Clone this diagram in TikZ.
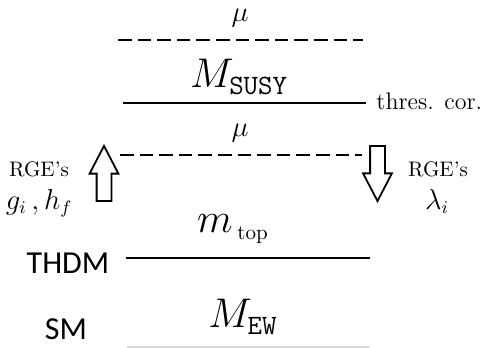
\documentclass[tikz,border=0pt]{standalone}
\usepackage{fontspec}
\usetikzlibrary{positioning,shapes.arrows}
\newfontfamily\modelfont{Carlito}
\tikzset{
  scaleline/.style={line width=1pt, draw=black},
  dashscale/.style={scaleline, dash pattern=on 6.8pt off 3pt},
  faintline/.style={line width=0.6pt, draw=black!15},
  massmark/.style={font=\fontsize{21}{24}\selectfont, inner sep=0pt},
  mumark/.style={font=\fontsize{14.4}{17}\selectfont, inner sep=0pt},
  coupmark/.style={font=\fontsize{13.5}{16}\selectfont, inner sep=0pt, anchor=base},
  sidenote/.style={font=\fontsize{10.5}{12.5}\selectfont, inner sep=0pt},
  modelname/.style={font=\modelfont\fontsize{16}{19}\selectfont, inner sep=0pt},
  runflow/.style={draw, line width=0.9pt, single arrow, minimum height=27.5pt,
    minimum width=13.5pt, single arrow head extend=3.5pt, inner sep=3.25pt,
    single arrow tip angle=55, anchor=tip},
}
\newcommand\ttsub[1]{\mbox{\fontsize{14}{16}\ttfamily #1}}

\begin{document}
\begin{tikzpicture}[x=0.5pt,y=-0.5pt]
\useasboundingbox (0,0) rectangle (483,348);
% upper cut-off, susy threshold
\node[mumark] (muhi) at (240,18) {$\mu$};
\coordinate (hiL) at (118,40);
\coordinate (hiR) at (363,40);
\draw[dashscale] (hiL) -- (hiR);
\node[massmark] (msusy) at (239,77) {$M_{\ttsub{SUSY}}$};
\coordinate (susyL) at (123,103);
\coordinate (susyR) at (366,103);
\draw[scaleline] (susyL) -- (susyR);
\node[sidenote, font=\fontsize{12}{14}\selectfont, anchor=west] (thres) at (376,101) {thres. cor.};
% lower cut-off with the running in both directions
\node[mumark] (mulo) at (240,133) {$\mu$};
\coordinate (loL) at (120,155);
\coordinate (loR) at (362,155);
\draw[dashscale] (loL) -- (loR);
\node[runflow, shape border rotate=90] (upflow) at (104,144) {};
\node[runflow, shape border rotate=270] (downflow) at (377.5,203) {};
\node[sidenote] (rgeup) at (39,169) {RGE's};
\node[coupmark] (gh) at (39,209) {$g_i\,, h_f$};
\node[sidenote] (rgedown) at (438,169) {RGE's};
\node[coupmark] (lam) at (437,209) {$\lambda_i$};
% two higgs doublet model between m_top and mu
\node[massmark] (mtop) at (233,229) {$m_{\,\mbox{\fontsize{10.5}{12}\selectfont top}}$};
\coordinate (topL) at (126,258);
\coordinate (topR) at (370,258);
\draw[scaleline] (topL) -- (topR);
\node[modelname] (thdm) at (68,263) {THDM};
% standard model at the electroweak scale
\node[massmark] (mew) at (243,317) {$M_{\ttsub{EW}}$};
\node[modelname] (sm) at (66,329) {SM};
\coordinate (ewL) at (127,347);
\coordinate (ewR) at (370,347);
\draw[faintline] (ewL) -- (ewR);
\end{tikzpicture}
\end{document}
